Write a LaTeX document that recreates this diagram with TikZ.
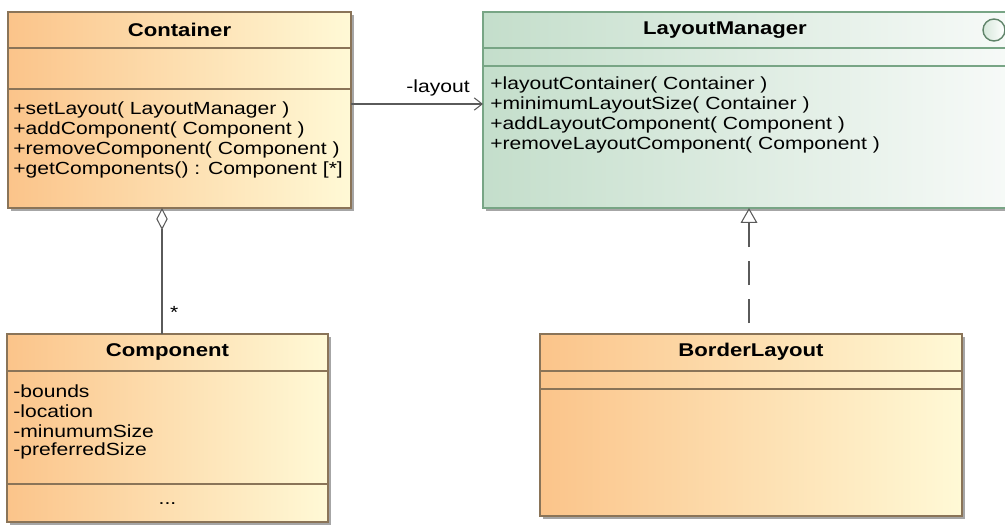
\documentclass[tikz,border=0pt]{standalone}
\usepackage{fontspec}
\setmainfont{Liberation Sans}
\newfontfamily\umlfont[FakeStretch=1.2]{Liberation Sans}
\usetikzlibrary{arrows.meta,shadows}

\definecolor{peach}{HTML}{FBC48A}
\definecolor{cream}{HTML}{FFF9D6}
\definecolor{brownline}{HTML}{8A7458}
\definecolor{mint}{HTML}{C4DECB}
\definecolor{mintwhite}{HTML}{F7FAF8}
\definecolor{greenline}{HTML}{78A585}
\definecolor{wire}{HTML}{5A5A5A}

\begin{document}
\begin{tikzpicture}[x=0.02cm,y=-0.02cm,
    every node/.style={font=\umlfont\fontsize{10}{12}\selectfont,text=black},
    classbox/.style={draw,line width=0.8pt,anchor=north west,inner sep=0pt,outer sep=0pt,
        drop shadow={shadow xshift=0.06cm,shadow yshift=-0.06cm,fill=black!35,opacity=1}},
    orangeclass/.style={classbox,draw=brownline,left color=peach,right color=cream},
    greenclass/.style={classbox,draw=greenline,left color=mint,right color=mintwhite},
    title/.style={font=\umlfont\fontsize{10.5}{12}\selectfont\bfseries},
    member/.style={anchor=west,inner sep=0pt},
    assoc/.style={wire,line width=0.6pt,-{Straight Barb[length=4.5pt,width=7pt]}},
    aggr/.style={wire,line width=0.6pt,{Diamond[open,length=12.5pt,width=6.5pt]}-},
    realize/.style={wire,line width=0.6pt,dash pattern=on 0.48cm off 0.28cm,dash phase=0.54cm,
        -{Triangle[open,length=8.5pt,width=9.5pt]}}]
  \clip (0,0) rectangle (1005,525);

  % classes
  \node[orangeclass,minimum width=6.86cm,minimum height=3.92cm] (container) at (8,12) {};
  \node[greenclass,minimum width=10.54cm,minimum height=3.92cm] (layoutmgr) at (483,12) {};
  \node[orangeclass,minimum width=6.42cm,minimum height=3.76cm] (component) at (7,334) {};
  \node[orangeclass,minimum width=8.44cm,minimum height=3.64cm] (borderlayout) at (540,334) {};

  % compartments
  \draw[brownline,line width=0.8pt] (container.west |- 0,48) -- (container.east |- 0,48);
  \draw[brownline,line width=0.8pt] (container.west |- 0,89) -- (container.east |- 0,89);
  \draw[greenline,line width=0.8pt] (layoutmgr.west |- 0,48) -- (layoutmgr.east |- 0,48);
  \draw[greenline,line width=0.8pt] (layoutmgr.west |- 0,66) -- (layoutmgr.east |- 0,66);
  \draw[brownline,line width=0.8pt] (component.west |- 0,371) -- (component.east |- 0,371);
  \draw[brownline,line width=0.8pt] (component.west |- 0,484) -- (component.east |- 0,484);
  \draw[brownline,line width=0.8pt] (borderlayout.west |- 0,371) -- (borderlayout.east |- 0,371);
  \draw[brownline,line width=0.8pt] (borderlayout.west |- 0,389) -- (borderlayout.east |- 0,389);

  % titles
  \node[title] (containertitle) at (container.north |- 0,30) {Container};
  \node[title] (layoutmgrtitle) at (725,30) {LayoutManager};
  \node[title] (componenttitle) at (component.north |- 0,352) {Component};
  \node[title] (borderlayouttitle) at (borderlayout.north |- 0,352) {BorderLayout};
  \node[circle,draw=greenline!80!black,line width=0.8pt,minimum size=0.44cm,inner sep=0pt,
        left color=mint!70,right color=white] (lmicon) at (994,30) {};

  % members
  \foreach \m [count=\i] in {{+setLayout( LayoutManager )},{+addComponent( Component )},
      {+removeComponent( Component )},{+getComponents() : Component [*]}}
    \node[member] (cm\i) at (13,90+20*\i) {\m};
  \foreach \m [count=\i] in {{+layoutContainer( Container )},{+minimumLayoutSize( Container )},
      {+addLayoutComponent( Component )},{+removeLayoutComponent( Component )}}
    \node[member] (lm\i) at (490,65+20*\i) {\m};
  \foreach \m [count=\i] in {-bounds,-location,-minumumSize,-preferredSize}
    \node[member] (pa\i) at (13,371+20*\i) {\m};
  \node (compdots) at (component.center |- 0,504) {...};

  % relations
  \draw[assoc] (container.east |- 0,104) -- node[pos=0.66,above=1pt] (layoutlbl) {-layout} (layoutmgr.west |- 0,104);
  \draw[aggr] (container.south -| 162,0) -- node[pos=0.83,right=1pt] (multstar) {*} (component.north -| 162,0);
  \draw[realize] (borderlayout.north -| 749,0) -- (layoutmgr.south -| 749,0);
\end{tikzpicture}
\end{document}
